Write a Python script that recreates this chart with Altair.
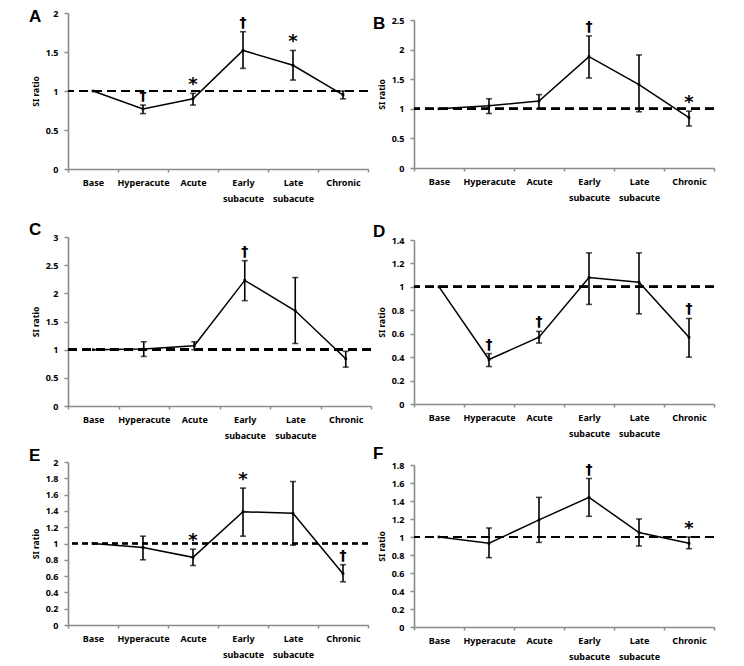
import altair as alt
import pandas as pd

cats = ["Base", "Hyperacute", "Acute", "Early subacute", "Late subacute", "Chronic"]

a_mean = [1.00, 0.77, 0.90, 1.52, 1.33, 0.95]
a_lo = [None, 0.71, 0.82, 1.29, 1.14, 0.90]
a_hi = [None, 0.82, 0.97, 1.76, 1.52, 1.00]
a_sig = ["", "†", "*", "†", "*", ""]

b_mean = [1.00, 1.05, 1.13, 1.88, 1.41, 0.85]
b_lo = [None, 0.92, 1.00, 1.52, 0.95, 0.71]
b_hi = [None, 1.17, 1.24, 2.23, 1.91, 0.96]
b_sig = ["", "", "", "†", "", "*"]

c_mean = [1.00, 1.01, 1.07, 2.23, 1.69, 0.84]
c_lo = [None, 0.88, 1.00, 1.87, 1.11, 0.69]
c_hi = [None, 1.14, 1.14, 2.58, 2.28, 0.97]
c_sig = ["", "", "", "†", "", ""]

d_mean = [1.00, 0.38, 0.57, 1.08, 1.04, 0.57]
d_lo = [None, 0.32, 0.52, 0.85, 0.77, 0.40]
d_hi = [None, 0.43, 0.62, 1.29, 1.29, 0.73]
d_sig = ["", "†", "†", "", "", "†"]

e_mean = [1.00, 0.95, 0.83, 1.39, 1.37, 0.63]
e_lo = [None, 0.80, 0.73, 1.09, 0.98, 0.53]
e_hi = [None, 1.09, 0.93, 1.68, 1.76, 0.74]
e_sig = ["", "", "*", "*", "", "†"]

f_mean = [1.00, 0.93, 1.19, 1.44, 1.05, 0.93]
f_lo = [None, 0.77, 0.94, 1.23, 0.90, 0.87]
f_hi = [None, 1.10, 1.44, 1.65, 1.20, 1.00]
f_sig = ["", "", "", "†", "", "*"]

a_ticks = [0, 0.5, 1, 1.5, 2]
b_ticks = [0, 0.5, 1, 1.5, 2, 2.5]
c_ticks = [0, 0.5, 1, 1.5, 2, 2.5, 3]
d_ticks = [0, 0.2, 0.4, 0.6, 0.8, 1, 1.2, 1.4]
e_ticks = [0, 0.2, 0.4, 0.6, 0.8, 1, 1.2, 1.4, 1.6, 1.8, 2]
f_ticks = [0, 0.2, 0.4, 0.6, 0.8, 1, 1.2, 1.4, 1.6, 1.8]

FONT = "Noto Sans"


def panel(letter, mean, lo, hi, sig, ticks, width, height, ldx, ldy, top_ext,
          dash=(9, 5), dash_w=2.2):
    df = pd.DataFrame({"cat": cats, "mean": mean, "lo": lo, "hi": hi, "sig": sig})
    x = alt.X("cat:N", sort=cats, title=None, bandPosition=0.5,
              scale=alt.Scale(type="band", paddingInner=0, paddingOuter=0),
              axis=alt.Axis(tickBand="extent", labelAngle=0,
                            labelExpr="split(datum.label, ' ')",
                            labelLineHeight=16, tickSize=3, labelPadding=6))
    ysc = alt.Scale(domain=[0, ticks[-1]], nice=False, zero=True)
    yax = alt.Axis(values=ticks, tickCount=len(ticks) + 2, format="~g",
                   title="SI ratio", labelOverlap=False,
                   tickSize=4, labelPadding=6, titlePadding=5)

    def Y(f):
        return alt.Y(f, scale=ysc, axis=yax)

    base = alt.Chart(df)
    ref = base.mark_rule(strokeDash=list(dash), strokeWidth=dash_w,
                         color="black").encode(y=alt.datum(1))
    valid = base.transform_filter("isValid(datum.hi)")
    err = valid.mark_rule(strokeWidth=1.6, color="black").encode(
        x=x, y=Y("lo:Q"), y2="hi:Q")
    cap_lo = valid.mark_tick(size=6, thickness=1.6, color="black").encode(
        x=x, y=Y("lo:Q"))
    cap_hi = valid.mark_tick(size=6, thickness=1.6, color="black").encode(
        x=x, y=Y("hi:Q"))
    line = base.mark_line(color="black", strokeWidth=1.5).encode(x=x, y=Y("mean:Q"))
    pts = base.mark_point(filled=True, shape="square", size=7, color="black",
                          opacity=1).encode(x=x, y=Y("mean:Q"))
    dag = valid.transform_filter("datum.sig == '†'").mark_text(
        fontSize=14, fontWeight="bold", font="DejaVu Sans", baseline="alphabetic",
        dy=-5, color="black").encode(x=x, y=Y("hi:Q"), text="sig:N")
    star = valid.transform_filter("datum.sig == '*'").mark_text(
        fontSize=18, fontWeight="bold", font="DejaVu Sans", baseline="alphabetic",
        dy=-3, color="black").encode(x=x, y=Y("hi:Q"), text="sig:N")
    one = alt.Chart(pd.DataFrame({"t": [letter]}))
    lab = one.mark_text(
        fontSize=17, fontWeight="bold", font="Liberation Sans", align="left",
        baseline="top", color="black").encode(
        x=alt.value(ldx), y=alt.value(ldy), text="t:N")
    spacer = one.mark_point(opacity=0, size=1).encode(
        x=alt.value(0), y=alt.value(-top_ext))
    return alt.layer(ref, err, cap_lo, cap_hi, line, pts, dag, star, lab,
                     spacer).properties(width=width, height=height)


def dummy():
    return alt.Chart(pd.DataFrame({"t": [0]})).mark_point(opacity=0, size=1).encode(
        x=alt.value(0), y=alt.value(0)).properties(width=1, height=1)


A = panel("A", a_mean, a_lo, a_hi, a_sig, a_ticks, 300, 156, -39, -4, 4)
B = panel("B", b_mean, b_lo, b_hi, b_sig, b_ticks, 300, 148, -41, -4.5, 4.5)
C = panel("C", c_mean, c_lo, c_hi, c_sig, c_ticks, 303, 169, -39, -15, 33)
D = panel("D", d_mean, d_lo, d_hi, d_sig, d_ticks, 300, 164, -41, -16, 37)
E = panel("E", e_mean, e_lo, e_hi, e_sig, e_ticks, 300, 163, -39, -14, 21,
          dash=(6, 4), dash_w=1.4)
F = panel("F", f_mean, f_lo, f_hi, f_sig, f_ticks, 300, 162, -41, -19, 26)

left = alt.vconcat(A, C, E, spacing=0)
right = alt.vconcat(dummy(), B, D, F, spacing=0)

chart = alt.hconcat(left, right, spacing=0).properties(
    padding={"left": 21, "top": 0, "right": 0, "bottom": 0}
).configure_view(stroke=None).configure_axis(
    grid=False, domainColor="#8a8a8a", domainWidth=1.6, tickColor="#8a8a8a",
    tickWidth=1.5, labelFont=FONT, labelFontWeight="bold", labelFontSize=9,
    labelColor="black", titleFont=FONT, titleFontWeight="bold", titleFontSize=8.5,
    titleColor="black"
)

chart.save("out.html", embed_options={"renderer": "svg", "actions": False})
